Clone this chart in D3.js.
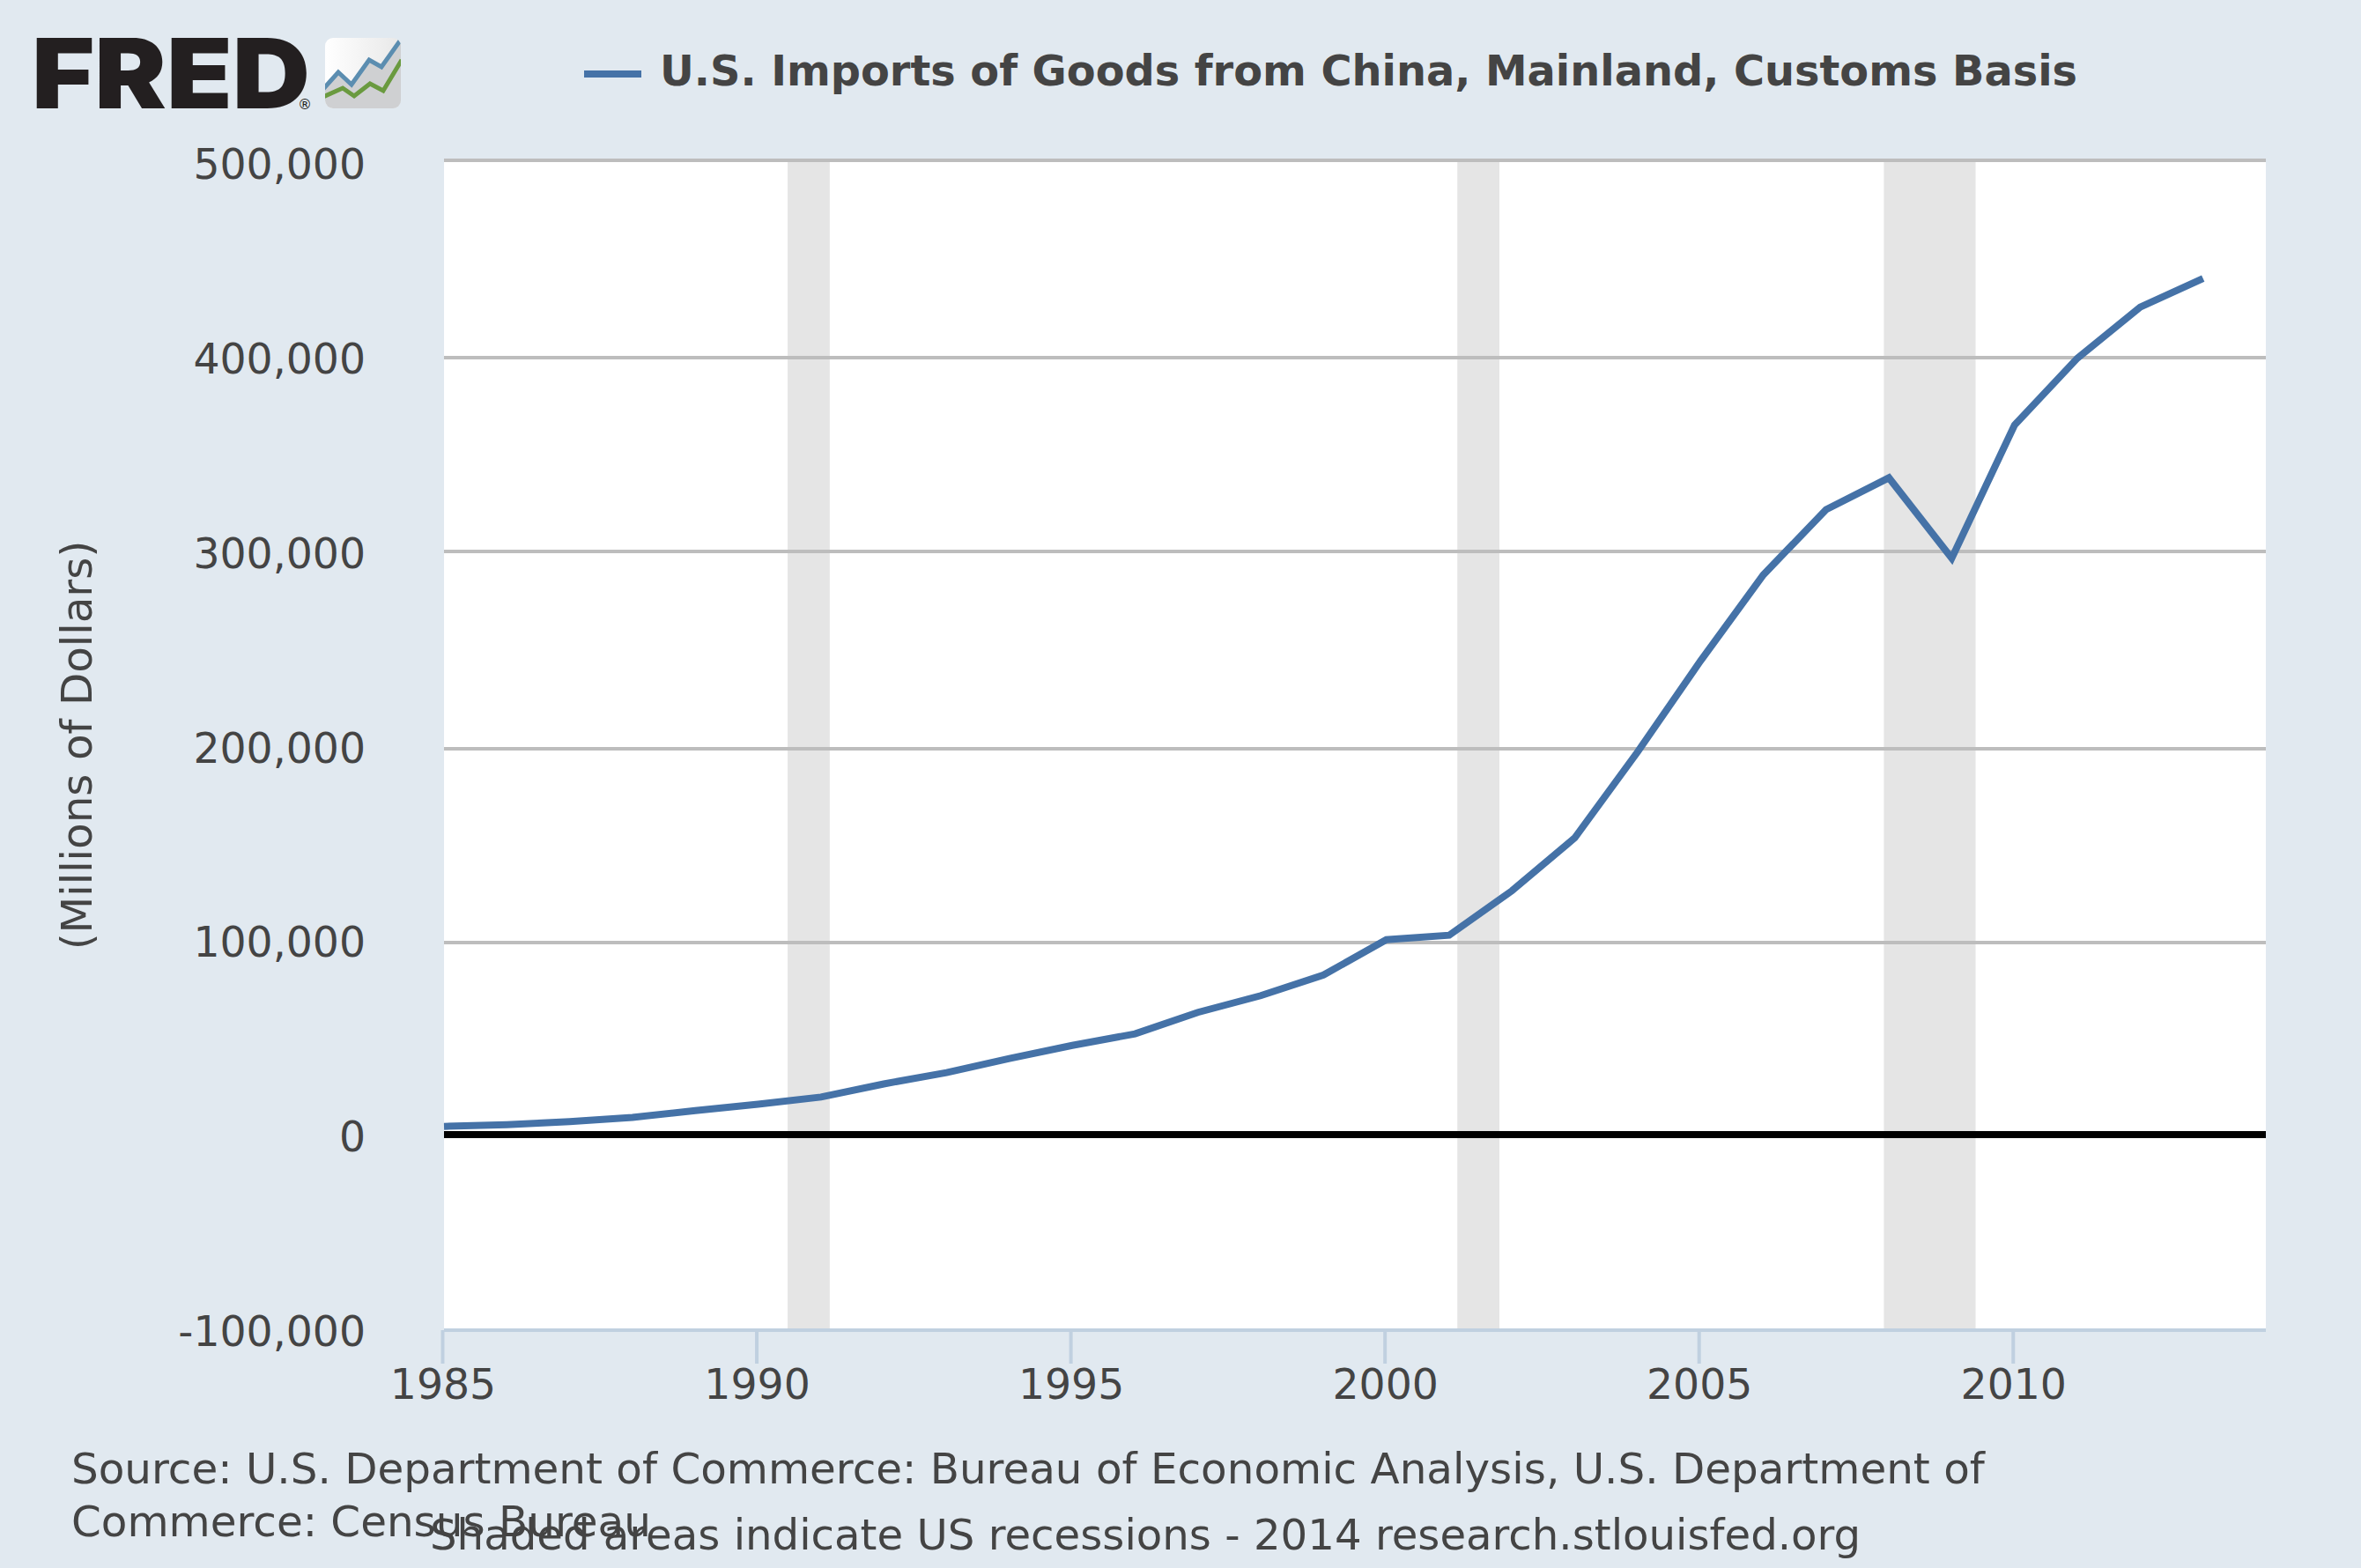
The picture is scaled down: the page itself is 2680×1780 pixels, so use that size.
<!DOCTYPE html>
<html>
<head>
<meta charset="utf-8">
<title>U.S. Imports of Goods from China</title>
<script src="https://d3js.org/d3.v7.min.js"></script>
<style>
    html, body { margin: 0; padding: 0; background: #e1e9f0; }
    svg { display: block; }
    text { font-family: "DejaVu Sans", sans-serif; fill: #444444; }
</style>
</head>
<body>
<div id="chart"></div>
<script>
"use strict"

// values (millions of dollars)
const years = [1985, 1986, 1987, 1988, 1989, 1990, 1991, 1992, 1993, 1994, 1995, 1996, 1997, 1998, 1999,
    2000, 2001, 2002, 2003, 2004, 2005, 2006, 2007, 2008, 2009, 2010, 2011, 2012, 2013];
const imports = [3860, 4770, 6290, 8510, 11990, 15240, 18970, 25730, 31540, 38790, 45540, 51510, 62560, 71170, 81790,
    100020, 102280, 125190, 152440, 196680, 243470, 287770, 321440, 337770, 296370, 364950, 399370, 425620, 440430];
const recessionStarts = [1990.47, 2001.13, 2007.92];
const recessionEnds = [1991.14, 2001.8, 2009.38];
const yTicks = [-100000, 0, 100000, 200000, 300000, 400000, 500000];
const xTicks = [1985, 1990, 1995, 2000, 2005, 2010];

const seriesName = "U.S. Imports of Goods from China, Mainland, Customs Basis";
const yTitle = "(Millions of Dollars)";
const sourceLines = ["Source: U.S. Department of Commerce: Bureau of Economic Analysis, U.S. Department of",
    "Commerce: Census Bureau"];
const creditLine = "Shaded areas indicate US recessions - 2014 research.stlouisfed.org";

const width = 2680, height = 1780;
const plotLeft = 504, plotRight = 2572, plotTop = 182, plotBottom = 1510;
const tickFont = 47.3, textFont = 48.4, creditFont = 48.2, titleFont = 47.8;

const svg = d3.select("#chart").append("svg")
    .attr("width", width)
    .attr("height", height);

svg.append("rect")
    .attr("width", width)
    .attr("height", height)
    .attr("fill", "#e1e9f0");

const x = d3.scaleLinear().domain([1985, 2014]).range([plotLeft, plotRight]);
// the series runs on a plain linear scale
const y = d3.scaleLinear().domain([-100000, 500000]).range([1507.7, 184.7]);
// grid lines were pixel rounded in the original, so they are not quite evenly spaced
const yGrid = d3.scaleLinear().domain(yTicks).range([plotBottom, 1288, 1070, 850, 626, 406, plotTop]);
// same for the tick labels, a slightly tighter spacing than the grid
const yLabel = d3.scaleLinear().domain([-100000, 500000]).range([1528, 203]);

// plot background
svg.append("rect")
    .attr("x", plotLeft)
    .attr("y", plotTop)
    .attr("width", plotRight - plotLeft)
    .attr("height", plotBottom - plotTop)
    .attr("fill", "#ffffff");

// recessions
svg.append("g")
    .selectAll("rect")
    .data(recessionStarts)
    .enter()
    .append("rect")
    .attr("x", function (d) { return x(d); })
    .attr("y", plotTop)
    .attr("width", function (d, i) { return x(recessionEnds[i]) - x(d); })
    .attr("height", plotBottom - plotTop)
    .attr("fill", "#e5e5e5");

// y axis with grid lines
const yAxis = svg.append("g")
    .attr("transform", "translate(" + plotLeft + ",0)")
    .call(d3.axisLeft(yGrid).offset(0).tickValues(yTicks).tickSize(plotLeft - plotRight)
        .tickFormat(function (d) { return d3.format(",")(d).replace("\u2212", "-"); }));
yAxis.select(".domain").remove();
yAxis.selectAll("line")
    .attr("stroke", "#bdbdbd")
    .attr("stroke-width", 4)
    .attr("display", function (d) { return d === -100000 ? "none" : null; });
yAxis.selectAll("text")
    .attr("x", -89)
    .attr("y", function (d) { return yLabel(d) - yGrid(d); })
    .attr("dy", 0)
    .attr("text-anchor", "end")
    .style("font-family", "\"DejaVu Sans\", sans-serif")
    .style("font-size", tickFont + "px")
    .attr("fill", "#444444");

// zero line
svg.append("line")
    .attr("x1", plotLeft)
    .attr("x2", plotRight)
    .attr("y1", yGrid(0))
    .attr("y2", yGrid(0))
    .attr("stroke", "#000000")
    .attr("stroke-width", 8);

// x axis
const xAxis = svg.append("g")
    .attr("transform", "translate(0," + plotBottom + ")")
    .call(d3.axisBottom(x).offset(0).tickValues(xTicks).tickSizeInner(38).tickSizeOuter(0).tickFormat(d3.format("d")));
xAxis.select(".domain")
    .attr("stroke", "#c0d0e0")
    .attr("stroke-width", 4);
xAxis.selectAll("line")
    .attr("x1", -1.5)
    .attr("x2", -1.5)
    .attr("stroke", "#c0d0e0")
    .attr("stroke-width", 4);
xAxis.selectAll("text")
    .attr("x", -1)
    .attr("y", 78)
    .attr("dy", 0)
    .attr("text-anchor", "middle")
    .style("font-family", "\"DejaVu Sans\", sans-serif")
    .style("font-size", tickFont + "px")
    .attr("fill", "#444444");

// series
const line = d3.line()
    .x(function (d, i) { return x(years[i]); })
    .y(function (d) { return y(d); });

svg.append("path")
    .datum(imports)
    .attr("d", line)
    .attr("fill", "none")
    .attr("stroke", "#4572a7")
    .attr("stroke-width", 8)
    .attr("stroke-linejoin", "miter");

// legend
svg.append("line")
    .attr("x1", 663)
    .attr("x2", 728)
    .attr("y1", 84)
    .attr("y2", 84)
    .attr("stroke", "#4572a7")
    .attr("stroke-width", 8);

svg.append("text")
    .attr("x", 749)
    .attr("y", 97)
    .style("font-size", titleFont + "px")
    .style("font-weight", "bold")
    .text(seriesName);

// y title
svg.append("text")
    .attr("transform", "translate(104,846) rotate(-90)")
    .attr("text-anchor", "middle")
    .style("font-size", textFont + "px")
    .text(yTitle);

// footer
svg.append("g")
    .selectAll("text")
    .data(sourceLines)
    .enter()
    .append("text")
    .attr("x", 81)
    .attr("y", function (d, i) { return 1684 + i * 60; })
    .style("font-size", textFont + "px")
    .text(function (d) { return d; });

svg.append("text")
    .attr("x", 488)
    .attr("y", 1759)
    .style("font-size", creditFont + "px")
    .text(creditLine);

// FRED logo
const logo = svg.append("g");

logo.append("text")
    .attr("x", 36)
    .attr("y", 123)
    .attr("textLength", 316)
    .attr("lengthAdjust", "spacingAndGlyphs")
    .style("font-family", "Inter, sans-serif")
    .style("font-weight", 900)
    .style("font-size", "110px")
    .style("fill", "#231f20")
    .text("FRED");

logo.append("text")
    .attr("x", 338)
    .attr("y", 124)
    .style("font-size", "16px")
    .style("fill", "#231f20")
    .text("®");

const iconFill = logo.append("linearGradient")
    .attr("id", "iconFill");
iconFill.append("stop").attr("offset", "0%").attr("stop-color", "#ffffff");
iconFill.append("stop").attr("offset", "100%").attr("stop-color", "#e8e8e8");

const iconClip = logo.append("clipPath")
    .attr("id", "iconClip");
iconClip.append("rect")
    .attr("x", 369)
    .attr("y", 43)
    .attr("width", 86)
    .attr("height", 80)
    .attr("rx", 9);

const icon = logo.append("g")
    .attr("clip-path", "url(#iconClip)");

icon.append("rect")
    .attr("x", 369)
    .attr("y", 43)
    .attr("width", 86)
    .attr("height", 80)
    .attr("fill", "url(#iconFill)");

icon.append("path")
    .attr("d", "M369,99L384,82L399,96L419,68L433,76L455,45V123H369Z")
    .attr("fill", "#cfd0d2");

icon.append("path")
    .attr("d", "M367,101L384,82L399,96L419,68L433,76L455,45")
    .attr("fill", "none")
    .attr("stroke", "#5b8db0")
    .attr("stroke-width", 5);

icon.append("path")
    .attr("d", "M367,110L389,100L402,109L420,95L435,103L456,68")
    .attr("fill", "none")
    .attr("stroke", "#6a9a3f")
    .attr("stroke-width", 5);
</script>
</body>
</html>
